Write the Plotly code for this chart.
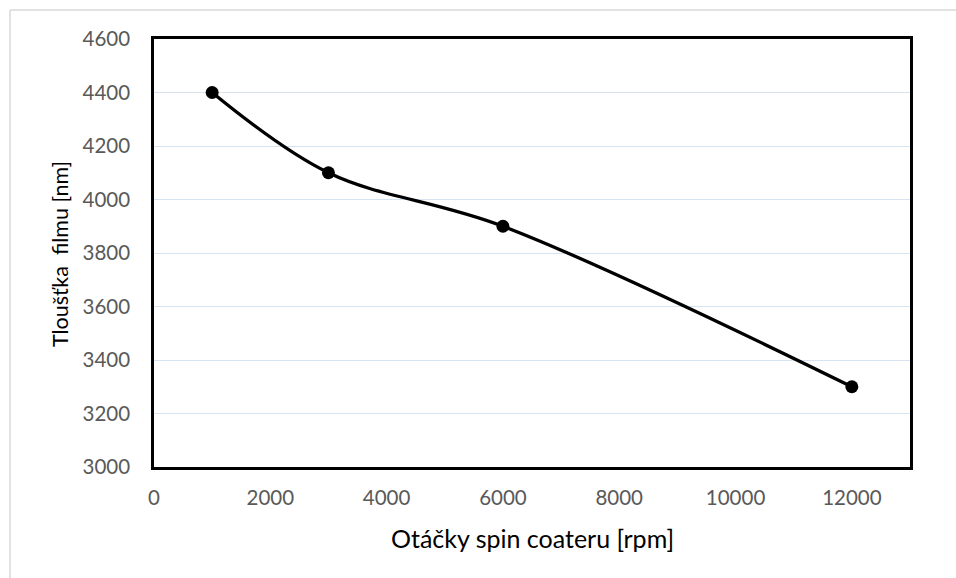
import plotly.graph_objects as go

rpm = [1000, 3000, 6000, 12000]
thickness = [4400, 4100, 3900, 3300]
x_ticks = [0, 2000, 4000, 6000, 8000, 10000, 12000]
y_ticks = [3000, 3200, 3400, 3600, 3800, 4000, 4200, 4400, 4600]

W, H = 956, 578
L, R, T, B = 154, 46, 39, 111
pw, ph = W - L - R, H - T - B

def px(x):
    return (x - L) / pw

def py(y):
    return (H - B - y) / ph

fig = go.Figure()
fig.add_trace(go.Scatter(
    x=rpm, y=thickness, mode="lines+markers",
    line=dict(color="black", width=3.3, shape="spline", smoothing=1.0),
    marker=dict(color="black", size=13),
    showlegend=False,
))

font = "Lato, 'Open Sans', sans-serif"
fig.update_layout(
    width=W, height=H,
    margin=dict(l=L, r=R, t=T, b=B),
    paper_bgcolor="white", plot_bgcolor="white",
    font=dict(family=font, size=20, color="#595959"),
    xaxis=dict(
        range=[0, 13000], tickvals=x_ticks, tickformat="d", ticks="outside",
        ticklen=11, tickcolor="rgba(0,0,0,0)", showgrid=False,
        zeroline=False, showline=True, linecolor="black", linewidth=2.5, mirror=True,
        tickfont=dict(size=20.5, color="#595959"),
    ),
    yaxis=dict(
        range=[3000, 4600], tickvals=y_ticks, tickformat="d", ticks="outside",
        ticklen=17, tickcolor="rgba(0,0,0,0)", showgrid=True,
        gridcolor="#D6E4F2", gridwidth=1.3,
        zeroline=False, showline=True, linecolor="black", linewidth=2.5, mirror=True,
        tickfont=dict(size=20.5, color="#595959"),
    ),
    annotations=[
        dict(text="Otáčky spin coateru [rpm]", xref="paper", yref="paper",
             x=px(532), y=py(538), xanchor="center", yanchor="middle", showarrow=False,
             font=dict(size=25, color="black", family=font)),
        dict(text="Tloušťka  filmu [nm]", xref="paper", yref="paper",
             x=px(60), y=py(254), xanchor="center", yanchor="middle", showarrow=False,
             textangle=-90,
             font=dict(size=21.5, color="black", family=font)),
    ],
    shapes=[
        dict(type="line", xref="paper", yref="paper",
             x0=px(10), x1=px(W + 5), y0=py(10), y1=py(10),
             line=dict(color="#D9D9D9", width=1.5)),
        dict(type="line", xref="paper", yref="paper",
             x0=px(10), x1=px(10), y0=py(10), y1=py(H + 5),
             line=dict(color="#D9D9D9", width=1.5)),
    ],
)

fig.write_html("out.html", config={"displayModeBar": False},
               post_script="document.body.style.margin='0';document.body.style.overflow='hidden';")
